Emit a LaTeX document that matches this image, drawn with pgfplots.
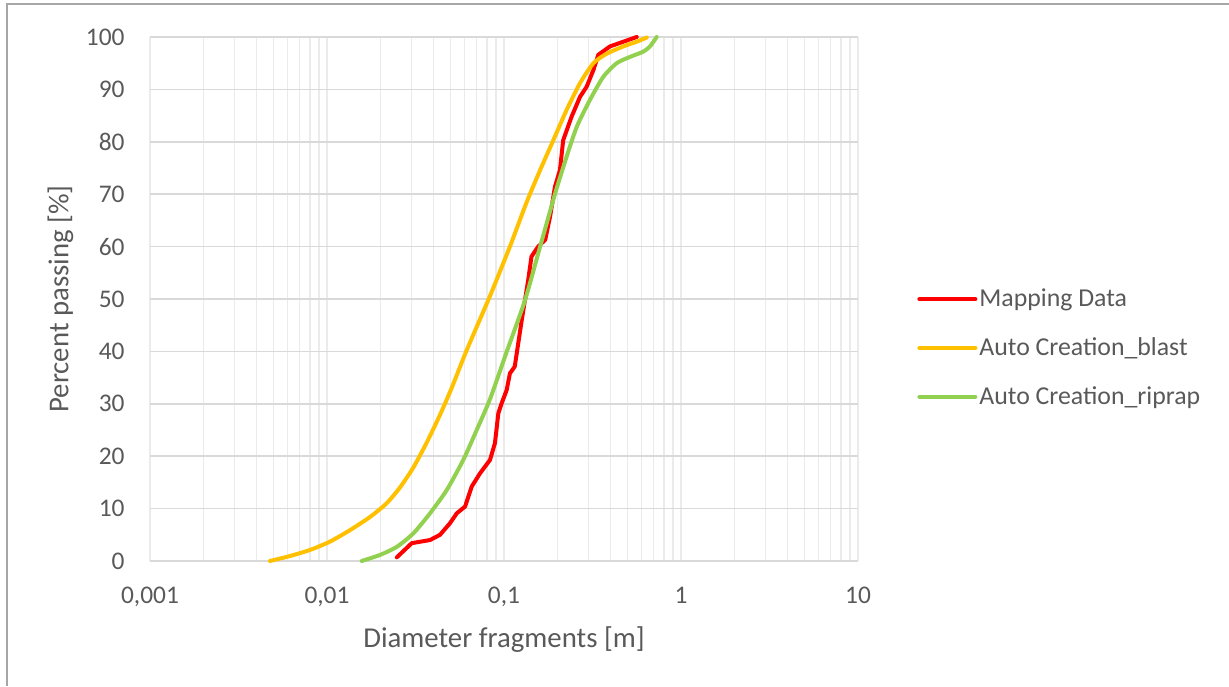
\documentclass[border=0pt]{standalone}
\usepackage{pgfplots}
\pgfplotsset{compat=1.18}
\usepackage{fontspec}
\setmainfont{Carlito}
\definecolor{txt}{HTML}{595959}
\definecolor{gridh}{HTML}{D9D9D9}
\definecolor{gridv}{HTML}{EBEBEB}
\definecolor{cred}{HTML}{FF0000}
\definecolor{corange}{HTML}{FFC000}
\definecolor{cgreen}{HTML}{92D050}
\definecolor{frame}{HTML}{A6A6A6}
\begin{document}
\begin{tikzpicture}
\useasboundingbox (0,0) rectangle (614.5pt,343pt);
\draw[frame, line width=0.6pt] (3.5pt,0pt) -- (3.5pt,341pt) -- (614.5pt,341pt);
\begin{axis}[
  at={(75pt,62.5pt)}, anchor=south west,
  scale only axis, width=354pt, height=262pt,
  xmode=log, xmin=0.001, xmax=10, ymin=0, ymax=100,
  clip=false,
  xtick={0.001,0.01,0.1,1,10},
  xticklabels={{0,001},{0,01},{0,1},{1},{10}},
  ytick={0,10,...,100},
  /pgf/number format/assume math mode=true,
  major tick length=0pt, minor tick length=0pt,
  tick style={draw=none},
  xmajorgrids=true, xminorgrids=true, ymajorgrids=true,
  major x grid style={gridv, line width=0.75pt},
  minor x grid style={gridv, line width=0.75pt},
  major y grid style={gridh, line width=0.75pt},
  axis lines=left,
  x axis line style={draw=gridh, line width=0.9pt, -},
  y axis line style={draw=none},
  ticklabel style={font=\fontsize{12.7pt}{14pt}\selectfont, text=txt},
  xticklabel style={anchor=north, inner sep=0pt, yshift=-13pt},
  yticklabel style={anchor=east, inner sep=0pt, xshift=-12.5pt},
  xlabel={Diameter fragments [m]},
  ylabel={Percent passing [\%]},
  label style={font=\fontsize{14.4pt}{16pt}\selectfont, text=txt},
  xlabel style={at={(axis description cs:0.5,0)}, anchor=base, inner sep=0pt, yshift=-43pt},
  ylabel style={at={(axis description cs:0,0.5)}, anchor=base, inner sep=0pt, yshift=40.75pt},
  legend style={at={(axis description cs:1.0833,0.4065)}, anchor=west, draw=none, fill=none,
     inner sep=0pt, row sep=14pt, column sep=1pt,
     font=\fontsize{12.9pt}{14pt}\selectfont, text=txt,
     nodes={inner sep=0pt}},
  legend cell align=left,
  legend image code/.code={\draw[#1, line width=2pt, line cap=round] (0pt,0pt) -- (28pt,0pt);},
  every axis plot/.append style={line width=2pt, line join=round, line cap=round},
]
\addplot[cred] coordinates {
(0.0248,0.7) (0.0301,3.4) (0.0382,4.0) (0.0435,5.0) (0.0495,7.2) (0.0541,9.1)
(0.0603,10.4) (0.0657,14.2) (0.0731,16.7) (0.0834,19.3) (0.0889,22.5) (0.0929,28.2)
(0.097,30.1) (0.1035,32.6) (0.108,35.8) (0.115,37.1) (0.126,46.0) (0.137,53.6)
(0.143,58.1) (0.156,60.0) (0.171,61.3) (0.182,65.7) (0.190,69.5) (0.194,71.4)
(0.207,74.6) (0.216,80.3) (0.241,84.8) (0.269,88.6) (0.293,90.5) (0.320,93.7)
(0.341,96.6) (0.397,98.2) (0.472,99.1) (0.562,100)
};
\addlegendentry{Mapping Data}
\addplot[corange, smooth, tension=0.4] coordinates {
(0.00476,0) (0.00618,0.95) (0.0080,2.1) (0.0104,3.7) (0.0135,5.9) (0.0175,8.4)
(0.0217,11.0) (0.0258,14.0) (0.0307,17.8) (0.0366,22.6) (0.0435,27.9) (0.0506,33.0)
(0.0615,40.2) (0.0834,50.6) (0.108,60.0) (0.134,68.4) (0.160,74.6) (0.190,80.3)
(0.226,86.1) (0.269,91.2) (0.320,95.0) (0.380,96.8) (0.472,98.2) (0.562,99.1) (0.640,99.9)
};
\addlegendentry{Auto Creation\_blast}
\addplot[cgreen, smooth, tension=0.4] coordinates {
(0.0157,0) (0.0199,1.15) (0.0248,2.7) (0.0308,5.3) (0.0382,9.1) (0.0474,13.5)
(0.0589,19.3) (0.0701,25.0) (0.0834,30.9) (0.1035,39.9) (0.1315,49.8) (0.160,60.0)
(0.194,70.0) (0.226,77.2) (0.258,82.9) (0.306,88.0) (0.364,92.4) (0.433,95.0)
(0.515,96.2) (0.612,97.2) (0.668,98.2) (0.729,100)
};
\addlegendentry{Auto Creation\_riprap}
\end{axis}
\end{tikzpicture}
\end{document}
